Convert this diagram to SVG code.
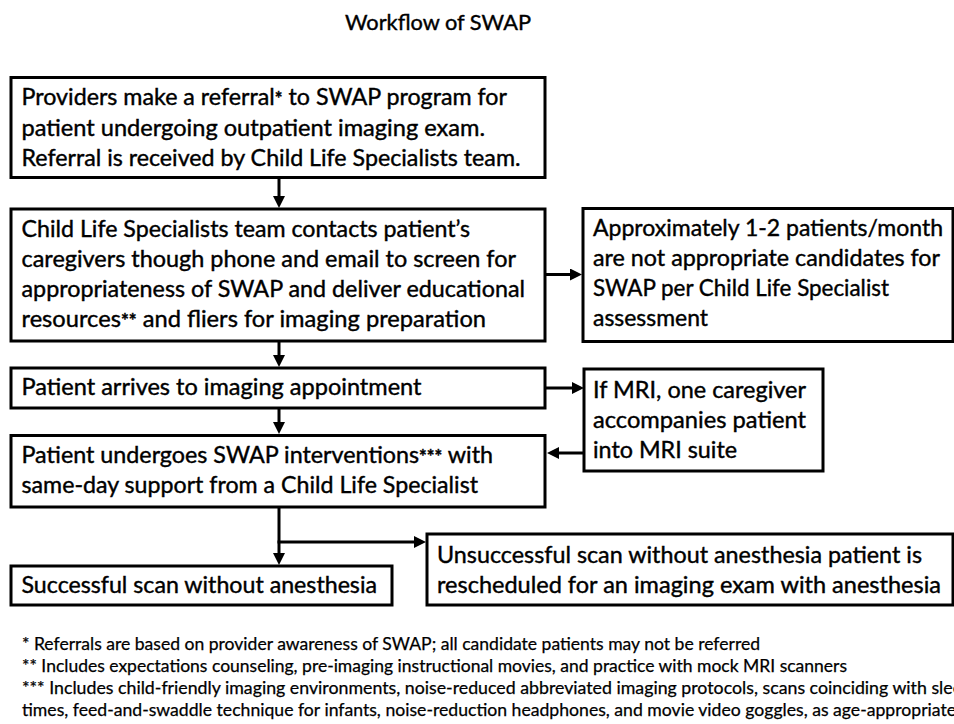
<svg xmlns="http://www.w3.org/2000/svg" width="954" height="724" viewBox="0 0 954 724">
<defs>
<style>
.box{fill:#fff;stroke:#000;stroke-width:3}
.t{font-family:Lato,"Open Sans","Liberation Sans",sans-serif;font-size:23px;fill:#000;stroke:#000;stroke-width:0.4}
.fn{font-family:Lato,"Open Sans","Liberation Sans",sans-serif;font-size:17.5px;fill:#000;stroke:#000;stroke-width:0.25}
.title{font-family:Lato,"Open Sans","Liberation Sans",sans-serif;font-size:22px;fill:#000;stroke:#000;stroke-width:0.4}
.ast{font-size:18px;font-weight:bold}
.c{fill:none;stroke:#000;stroke-width:3}
</style>
<marker id="ah" viewBox="0 0 12 12" refX="6" refY="6" markerWidth="12" markerHeight="12" markerUnits="userSpaceOnUse" orient="auto">
<path d="M0,0 L12,6 L0,12 z" fill="#000"/>
</marker>
</defs>
<rect width="954" height="724" fill="#fff"/>
<text class="title" x="345" y="30" textLength="186" lengthAdjust="spacingAndGlyphs">Workflow of SWAP</text>

<g id="connectors">
<line class="c" x1="279" y1="177" x2="279" y2="202" marker-end="url(#ah)"/>
<line class="c" x1="545" y1="274.5" x2="576" y2="274.5" marker-end="url(#ah)"/>
<line class="c" x1="279" y1="341" x2="279" y2="361" marker-end="url(#ah)"/>
<line class="c" x1="545" y1="388" x2="578" y2="388" marker-end="url(#ah)"/>
<line class="c" x1="279" y1="408" x2="279" y2="428" marker-end="url(#ah)"/>
<line class="c" x1="584" y1="453" x2="553" y2="453" marker-end="url(#ah)"/>
<line class="c" x1="279" y1="507" x2="279" y2="559" marker-end="url(#ah)"/>
<line class="c" x1="277.5" y1="542" x2="420" y2="542" marker-end="url(#ah)"/>
</g>

<g id="n1">
<rect class="box" x="11" y="77.5" width="534" height="100"/>
<text class="t" x="21.5" y="105" textLength="485.5" lengthAdjust="spacingAndGlyphs">Providers make a referral<tspan class="ast">*</tspan> to SWAP program for</text>
<text class="t" x="21.5" y="136" textLength="463.5" lengthAdjust="spacingAndGlyphs">patient undergoing outpatient imaging exam.</text>
<text class="t" x="21.5" y="166" textLength="499" lengthAdjust="spacingAndGlyphs">Referral is received by Child Life Specialists team.</text>
</g>

<g id="n2">
<rect class="box" x="11" y="209" width="534" height="132"/>
<text class="t" x="21.5" y="237" textLength="448.5" lengthAdjust="spacingAndGlyphs">Child Life Specialists team contacts patient’s</text>
<text class="t" x="21.5" y="267" textLength="494.5" lengthAdjust="spacingAndGlyphs">caregivers though phone and email to screen for</text>
<text class="t" x="21.5" y="297" textLength="503.5" lengthAdjust="spacingAndGlyphs">appropriateness of SWAP and deliver educational</text>
<text class="t" x="21.5" y="327" textLength="464.5" lengthAdjust="spacingAndGlyphs">resources<tspan class="ast">**</tspan> and fliers for imaging preparation</text>
</g>

<g id="n3">
<rect class="box" x="583" y="208.5" width="370" height="133"/>
<text class="t" x="593" y="236" textLength="350" lengthAdjust="spacingAndGlyphs">Approximately 1-2 patients/month</text>
<text class="t" x="593" y="266" textLength="347" lengthAdjust="spacingAndGlyphs">are not appropriate candidates for</text>
<text class="t" x="593" y="296" textLength="296" lengthAdjust="spacingAndGlyphs">SWAP per Child Life Specialist</text>
<text class="t" x="593" y="326" textLength="115" lengthAdjust="spacingAndGlyphs">assessment</text>
</g>

<g id="n4">
<rect class="box" x="11" y="368" width="534" height="40"/>
<text class="t" x="21.5" y="395" textLength="400" lengthAdjust="spacingAndGlyphs">Patient arrives to imaging appointment</text>
</g>

<g id="n5">
<rect class="box" x="584" y="369" width="239" height="102"/>
<text class="t" x="593" y="398" textLength="213" lengthAdjust="spacingAndGlyphs">If MRI, one caregiver</text>
<text class="t" x="593" y="428" textLength="213" lengthAdjust="spacingAndGlyphs">accompanies patient</text>
<text class="t" x="593" y="458" textLength="144" lengthAdjust="spacingAndGlyphs">into MRI suite</text>
</g>

<g id="n6">
<rect class="box" x="11" y="435.5" width="534" height="71.5"/>
<text class="t" x="21.5" y="463" textLength="471.5" lengthAdjust="spacingAndGlyphs">Patient undergoes SWAP interventions<tspan class="ast">***</tspan> with</text>
<text class="t" x="21.5" y="493" textLength="456.5" lengthAdjust="spacingAndGlyphs">same-day support from a Child Life Specialist</text>
</g>

<g id="n7">
<rect class="box" x="11" y="566" width="381" height="39"/>
<text class="t" x="21.5" y="593" textLength="355.5" lengthAdjust="spacingAndGlyphs">Successful scan without anesthesia</text>
</g>

<g id="n8">
<rect class="box" x="427" y="534" width="526" height="71"/>
<text class="t" x="437" y="563" textLength="485" lengthAdjust="spacingAndGlyphs">Unsuccessful scan without anesthesia patient is</text>
<text class="t" x="437" y="593" textLength="504" lengthAdjust="spacingAndGlyphs">rescheduled for an imaging exam with anesthesia</text>
</g>

<g id="footnotes">
<text class="fn" x="22" y="650" textLength="738" lengthAdjust="spacingAndGlyphs">* Referrals are based on provider awareness of SWAP; all candidate patients may not be referred</text>
<text class="fn" x="22" y="672" textLength="825" lengthAdjust="spacingAndGlyphs">** Includes expectations counseling, pre-imaging instructional movies, and practice with mock MRI scanners</text>
<text class="fn" x="22" y="694" textLength="950" lengthAdjust="spacingAndGlyphs">*** Includes child-friendly imaging environments, noise-reduced abbreviated imaging protocols, scans coinciding with sleep</text>
<text class="fn" x="22" y="716" textLength="934" lengthAdjust="spacingAndGlyphs">times, feed-and-swaddle technique for infants, noise-reduction headphones, and movie video goggles, as age-appropriate</text>
</g>
</svg>
